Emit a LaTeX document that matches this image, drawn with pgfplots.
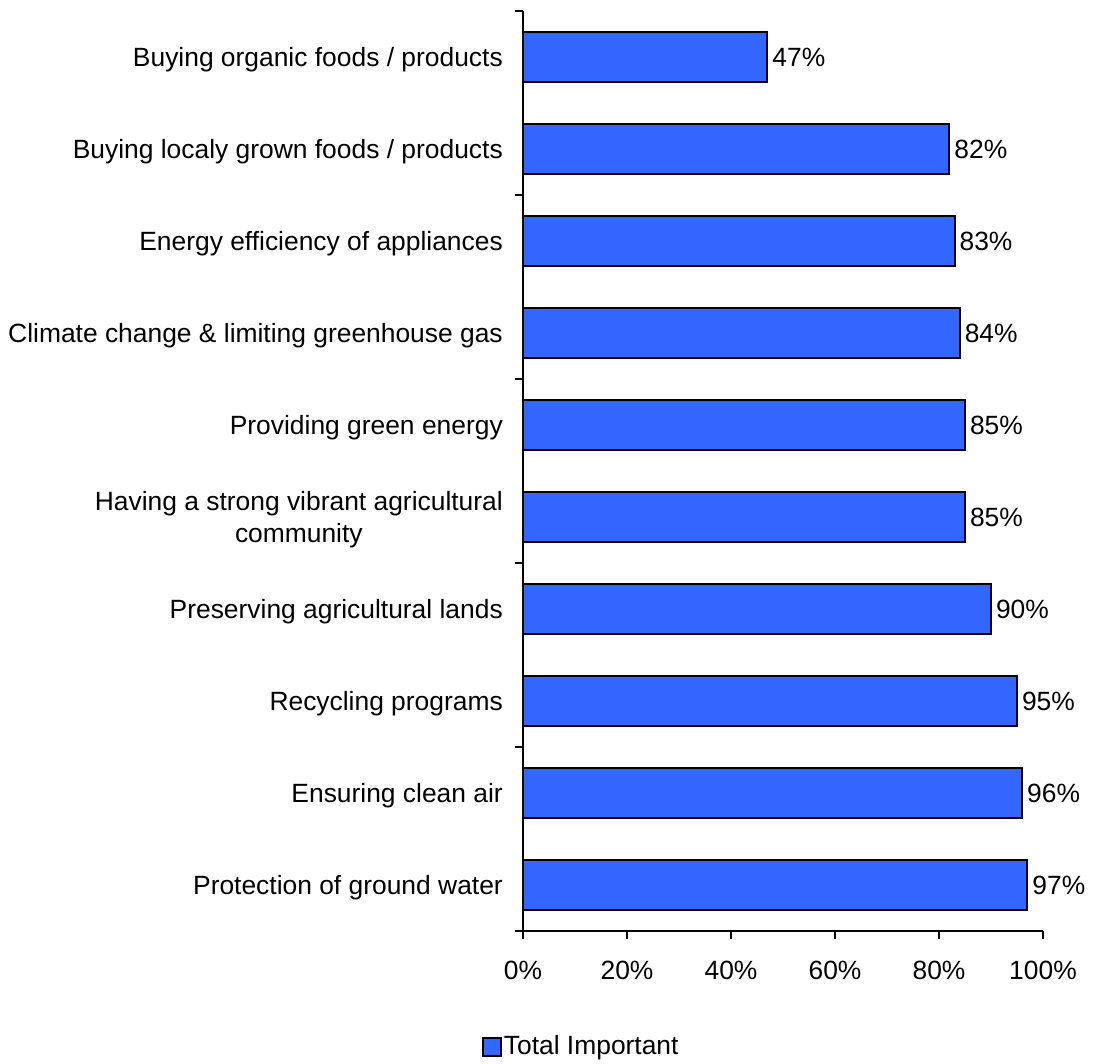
\documentclass[border=0pt]{standalone}
\usepackage{fontspec}
\setmainfont{Liberation Sans}
\usepackage{pgfplots}
\pgfplotsset{compat=1.18}
\definecolor{barblue}{RGB}{51,102,255}
\newcommand\chartfont{\fontsize{26.4}{32}\selectfont}
\begin{document}
\chartfont
\begin{tikzpicture}
\useasboundingbox (0,0) rectangle (1093pt,-1064pt);
\begin{axis}[
  at={(523pt,-931pt)}, anchor=south west,
  scale only axis, width=520pt, height=920pt,
  xbar, xmin=0, xmax=100, ymin=-0.5, ymax=9.5, y dir=reverse,
  axis x line*=bottom, axis y line*=left,
  axis line style={line width=2pt,-},
  /pgf/number format/assume math mode=true,
  every tick label/.append style={font=\chartfont},
  xtick={0,20,40,60,80,100},
  xticklabels={0\%,20\%,40\%,60\%,80\%,100\%},
  xticklabel style={inner sep=0pt, yshift=-22pt},
  ytick={0,...,9},
  yticklabels={Buying organic foods / products,Buying localy grown foods / products,Energy efficiency of appliances,Climate change \& limiting greenhouse gas,Providing green energy,{Having a strong vibrant agricultural\\community},Preserving agricultural lands,Recycling programs,Ensuring clean air,Protection of ground water},
  yticklabel style={align=center, inner sep=0pt, xshift=-12pt, yshift=-3pt},
  minor ytick={-0.5,1.5,3.5,5.5,7.5,9.5},
  tick align=outside,
  major tick length=8pt, minor tick length=8pt,
  major y tick style={draw=none},
  minor y tick style={line width=2pt, black},
  xtick style={line width=2pt, black},
  bar width=50pt,
  nodes near coords={\pgfmathprintnumber{\pgfplotspointmeta}\%},
  nodes near coords style={font=\chartfont, anchor=west, inner sep=4pt, black},
  legend style={at={(0.112,-0.126)}, anchor=center, draw=none, fill=none, font=\chartfont, inner sep=0pt},
  legend image code/.code={\draw[#1] (0pt,-9pt) rectangle (18pt,9pt);},
]
\addplot[fill=barblue, draw=black, line width=2pt] coordinates {
  (47,0) (82,1) (83,2) (84,3) (85,4) (85,5) (90,6) (95,7) (96,8) (97,9)
};
\addlegendentry{Total Important}
\end{axis}
\end{tikzpicture}
\end{document}
